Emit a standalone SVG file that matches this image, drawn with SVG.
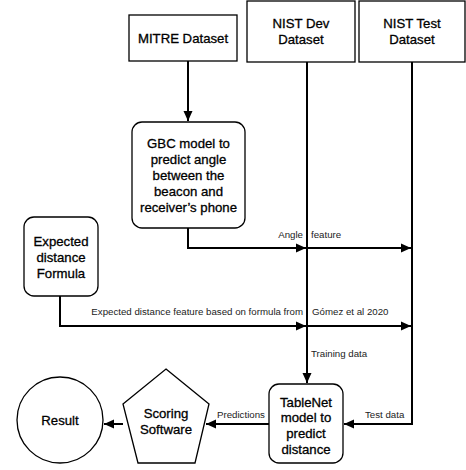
<svg xmlns="http://www.w3.org/2000/svg" width="466" height="470" viewBox="0 0 466 470">
<style>
.box{fill:#fff;stroke:#000;stroke-width:1.3}
.node{font-family:"Liberation Sans",Arial,sans-serif;font-size:13.2px;fill:#000;stroke:#000;stroke-width:0.3;text-anchor:middle}
.lbl{font-family:"Liberation Sans",Arial,sans-serif;font-size:9.7px;fill:#222}
.edge{fill:none;stroke:#000;stroke-width:2}
</style>
<defs>
<marker id="ah" markerUnits="userSpaceOnUse" markerWidth="10" markerHeight="10" viewBox="0 0 10 10" refX="10" refY="5" orient="auto">
<path d="M0,0.5 L10,5 L0,9.5 Z" fill="#000"/>
</marker>
</defs>
<rect x="0" y="0" width="466" height="470" fill="#fff"/>
<g id="connectors">
<path class="edge" d="M188,61 V121" marker-end="url(#ah)"/>
<path class="edge" d="M307,62 V383" marker-end="url(#ah)"/>
<path class="edge" d="M412,62 V424 H344" marker-end="url(#ah)"/>
<path class="edge" d="M188,228 V248 H306" marker-end="url(#ah)"/>
<path class="edge" d="M307,248 H411" marker-end="url(#ah)"/>
<path class="edge" d="M60,296 V326 H306" marker-end="url(#ah)"/>
<path class="edge" d="M307,326 H411" marker-end="url(#ah)"/>
<path class="edge" d="M269,424 H206" marker-end="url(#ah)"/>
<path class="edge" d="M123,424 H104" marker-end="url(#ah)"/>
<text class="lbl" x="303" y="238" text-anchor="end">Angle</text>
<text class="lbl" x="311" y="238">feature</text>
<text class="lbl" x="303" y="315" text-anchor="end">Expected distance feature based on formula from</text>
<text class="lbl" x="312" y="315">Gómez et al 2020</text>
<text class="lbl" x="311" y="357">Training data</text>
<text class="lbl" x="365" y="418">Test data</text>
<text class="lbl" x="217" y="418">Predictions</text>
</g>
<g id="mitre">
<rect class="box" x="129" y="15" width="108" height="46"/>
<text class="node" x="183" y="43">MITRE Dataset</text>
</g>
<g id="nistdev">
<rect class="box" x="247" y="1" width="108" height="61"/>
<text class="node" x="301" y="28">NIST Dev</text>
<text class="node" x="301" y="44">Dataset</text>
</g>
<g id="nisttest">
<rect class="box" x="359" y="1" width="106" height="61"/>
<text class="node" x="412" y="28">NIST Test</text>
<text class="node" x="412" y="44">Dataset</text>
</g>
<g id="gbc">
<rect class="box" x="132" y="122" width="113" height="106" rx="10"/>
<text class="node" x="188.5" y="148">GBC model to</text>
<text class="node" x="188.5" y="164">predict angle</text>
<text class="node" x="188.5" y="180">between the</text>
<text class="node" x="188.5" y="196">beacon and</text>
<text class="node" x="188.5" y="212">receiver’s phone</text>
</g>
<g id="expected">
<rect class="box" x="24" y="217" width="74" height="79" rx="10"/>
<text class="node" x="61" y="246">Expected</text>
<text class="node" x="61" y="262">distance</text>
<text class="node" x="61" y="278">Formula</text>
</g>
<g id="tablenet">
<rect class="box" x="269" y="384" width="74" height="79" rx="10"/>
<text class="node" x="306" y="407">TableNet</text>
<text class="node" x="306" y="422">model to</text>
<text class="node" x="306" y="438">predict</text>
<text class="node" x="306" y="454">distance</text>
</g>
<g id="scoring">
<polygon class="box" points="166,369 209,404 195,463 138,463 123,404"/>
<text class="node" x="166" y="418">Scoring</text>
<text class="node" x="166" y="434">Software</text>
</g>
<g id="result">
<circle class="box" cx="60" cy="420" r="43"/>
<text class="node" x="60" y="425">Result</text>
</g>
</svg>
